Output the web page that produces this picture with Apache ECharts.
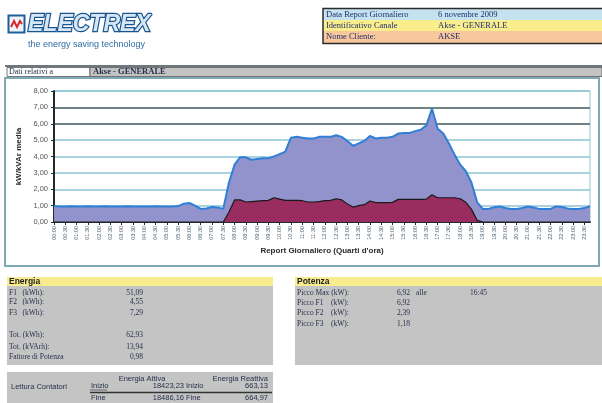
<!DOCTYPE html>
<html><head><meta charset="utf-8">
<script src="https://cdn.jsdelivr.net/npm/echarts@6/dist/echarts.min.js"></script>
<style>html,body{margin:0;padding:0;background:#fff}#c{width:602px;height:403px}</style>
</head><body><div id="c"></div>
<script>
const categories = ["00:00","00:15","00:30","00:45","01:00","01:15","01:30","01:45","02:00","02:15","02:30","02:45","03:00","03:15","03:30","03:45","04:00","04:15","04:30","04:45","05:00","05:15","05:30","05:45","06:00","06:15","06:30","06:45","07:00","07:15","07:30","07:45","08:00","08:15","08:30","08:45","09:00","09:15","09:30","09:45","10:00","10:15","10:30","10:45","11:00","11:15","11:30","11:45","12:00","12:15","12:30","12:45","13:00","13:15","13:30","13:45","14:00","14:15","14:30","14:45","15:00","15:15","15:30","15:45","16:00","16:15","16:30","16:45","17:00","17:15","17:30","17:45","18:00","18:15","18:30","18:45","19:00","19:15","19:30","19:45","20:00","20:15","20:30","20:45","21:00","21:15","21:30","21:45","22:00","22:15","22:30","22:45","23:00","23:15","23:30","23:45"];
const kW = [0.97,0.95,0.95,0.96,0.95,0.95,0.96,0.95,0.95,0.96,0.95,0.95,0.95,0.96,0.95,0.95,0.95,0.95,0.96,0.95,0.95,0.95,0.97,1.12,1.16,1.0,0.8,0.82,0.92,0.88,0.8,2.4,3.5,3.96,3.95,3.8,3.85,3.9,3.9,4.0,4.15,4.3,5.15,5.2,5.15,5.1,5.1,5.2,5.2,5.2,5.3,5.2,4.95,4.65,4.8,4.95,5.25,5.1,5.15,5.15,5.2,5.4,5.43,5.43,5.55,5.63,5.9,6.92,5.7,5.4,4.8,4.1,3.5,3.1,2.4,1.2,0.8,0.8,0.9,0.95,0.85,0.8,0.8,0.85,0.95,0.88,0.8,0.8,0.8,0.95,0.92,0.82,0.8,0.8,0.85,0.96];
const kVAr = [0,0,0,0,0,0,0,0,0,0,0,0,0,0,0,0,0,0,0,0,0,0,0,0,0,0,0,0,0,0,0,0.6,1.35,1.35,1.22,1.25,1.28,1.3,1.32,1.48,1.4,1.32,1.32,1.32,1.3,1.22,1.22,1.25,1.3,1.32,1.42,1.35,1.1,0.91,1.0,1.06,1.28,1.18,1.18,1.18,1.2,1.38,1.38,1.38,1.38,1.38,1.4,1.66,1.48,1.48,1.48,1.48,1.42,1.2,0.77,0.1,0,0,0,0,0,0,0,0,0,0,0,0,0,0,0,0,0,0,0,0];
const headerLabels = ["Data Report Giornaliero","Identificativo Canale","Nome Cliente:"];
const headerValues = ["6 novembre 2009","Akse - GENERALE","AKSE"];
const energiaLabels = ["F1   (kWh):","F2   (kWh):","F3   (kWh):","","Tot. (kWh):","Tot. (kVArh):","Fattore di Potenza"];
const energiaValues = ["51,09","4,55","7,29","","62,93","13,94","0,98"];
const potenzaLabels = ["Picco Max (kW):","Picco F1    (kW):","Picco F2    (kW):","Picco F3    (kW):"];
const potenzaValues = ["6,92","6,92","2,39","1,18"];

const SERIF = '"Liberation Serif", "DejaVu Serif", serif';
const SANS = '"Liberation Sans", Arial, sans-serif';
const TXT = '#26304a';

function t(x, y, text, opt) {
  opt = opt || {};
  return {type:'text', x:x, y:y, silent:true, z:100, style:{text:text, fontSize:opt.size||8, fontFamily:opt.font||SERIF,
    fontWeight:opt.weight||'normal', fontStyle:opt.style||'normal', fill:opt.fill||TXT, align:opt.align||'left', verticalAlign:'middle',
    stroke:opt.stroke, lineWidth:opt.lw||0}};
}
function r(x, y, w, h, fill, stroke, lw) {
  return {type:'rect', silent:true, z:1, shape:{x:x,y:y,width:w,height:h}, style:{fill:fill||'none', stroke:stroke||null, lineWidth:lw||0}};
}
function ln(x1,y1,x2,y2,color,w){return {type:'line', silent:true, z:2, shape:{x1:x1,y1:y1,x2:x2,y2:y2}, style:{stroke:color,lineWidth:w}};}

const g = [];
// Logo
g.push(r(8.5,15.5,16,17,'#eef4fa','#1c5d9c',2));
g.push({type:'polyline', silent:true, z:3, shape:{points:[[11,27],[14,21],[17,27],[20,21],[22,24]]}, style:{stroke:'#d8262a', lineWidth:2, fill:'none'}});
g.push(t(28,25,'ELECTREX',{size:23,font:SANS,weight:'bold',style:'italic',fill:'#d6e6f4',stroke:'#18558f',lw:2.4}));
g.push(t(28,44.5,'the energy saving technology',{size:9,font:SANS,fill:'#2f6ea8'}));
// Header table
g.push(r(323,9,285,11,'#c4e3ef'));
g.push(r(323,20,285,11,'#faee8c'));
g.push(r(323,31,285,12,'#f8c79b'));
g.push(r(323,8.5,285,35,'none','#2b2b2b',1.5));
headerLabels.forEach((s,i)=>{ g.push(t(326,14.5+i*11.2,s,{size:8.5,fill:'#1f2d6e'})); g.push(t(438,14.5+i*11.2,headerValues[i],{size:8.5,fill:'#1f2d6e'})); });
// Chart panel
g.push(ln(5,66,602,66,'#3b4b50',1.5));
g.push(r(7,67.5,83,9,'#ffffff','#555',0.8));
g.push(r(90,67.5,512,9,'#c3c3c3','#555',0.8));
g.push(t(9,72,'Dati relativi a',{size:8}));
g.push(t(93,72,'Akse - GENERALE',{size:8.5,weight:'bold'}));
g.push(r(5,78,594,188,'none','#7fa9b4',2));
// Energia panel
g.push(r(7,277,266,9,'#f8ec8e'));
g.push(r(7,286,266,79,'#c4c4c4'));
g.push(t(9,281.5,'Energia',{size:8.5,font:SANS,weight:'bold',fill:'#1e1e1e'}));
const eY = [292.7,302.3,312.7,324,335,346.7,357.3];
energiaLabels.forEach((s,i)=>{ if(!s) return; g.push(t(9,eY[i],s,{size:7.5})); g.push(t(143,eY[i],energiaValues[i],{size:7.5,align:'right'})); });
// Potenza panel
g.push(r(295,277,310,9,'#f8ec8e'));
g.push(r(295,286,310,79,'#c4c4c4'));
g.push(t(297,281.5,'Potenza',{size:8.5,font:SANS,weight:'bold',fill:'#1e1e1e'}));
const pY = [292.7,303.3,313.3,324];
potenzaLabels.forEach((s,i)=>{ g.push(t(297,pY[i],s,{size:7.5})); g.push(t(410,pY[i],potenzaValues[i],{size:7.5,align:'right'})); });
g.push(t(416,292.7,'alle',{size:7.5}));
g.push(t(470,292.7,'16:45',{size:7.5}));
// Lettura Contatori
g.push(r(7,372,266,31,'#c4c4c4'));
g.push(t(142,379,'Energia Attiva',{size:7.5,font:SANS,align:'center'}));
g.push(t(268,379,'Energia Reattiva',{size:7.5,font:SANS,align:'right'}));
g.push(t(11,387,'Lettura Contatori',{size:7.5,font:SANS}));
g.push(t(91,386,'Inizio',{size:7.5,font:SANS}));
g.push(ln(90,390,107,390,'#444',0.7));
g.push(t(184,386,'18423,23',{size:7.5,font:SANS,align:'right'}));
g.push(t(186,386,'Inizio',{size:7.5,font:SANS}));
g.push(t(268,386,'663,13',{size:7.5,font:SANS,align:'right'}));
g.push(ln(90,392.5,272,392.5,'#333',1.5));
g.push(t(91,397.5,'Fine',{size:7.5,font:SANS}));
g.push(t(184,397.5,'18486,16',{size:7.5,font:SANS,align:'right'}));
g.push(t(186,397.5,'Fine',{size:7.5,font:SANS}));
g.push(t(268,397.5,'664,97',{size:7.5,font:SANS,align:'right'}));

const chart = echarts.init(document.getElementById('c'), null, {renderer:'canvas'});
chart.setOption({
  backgroundColor:'#ffffff',
  animation:false,
  graphic:g,
  grid:{left:54, right:12, top:91, bottom:181, show:true, borderColor:'#8cc4d4', borderWidth:1, backgroundColor:'#ffffff'},
  xAxis:{type:'category', data:categories, boundaryGap:false,
    name:"Report Giornaliero (Quarti d'ora)", nameLocation:'middle', nameGap:25,
    nameTextStyle:{fontSize:8, fontWeight:'bold', fontFamily:SANS, color:'#2a2a2a'},
    axisLine:{lineStyle:{color:'#1e2a2e', width:2}},
    axisTick:{show:true, interval:1, length:3, lineStyle:{color:'#1e2a2e'}},
    axisLabel:{interval:1, rotate:90, fontSize:5.5, color:'#4a6070', margin:4, fontFamily:SANS},
    splitLine:{show:false}},
  yAxis:{type:'value', min:0, max:8, interval:1,
    name:'kW/kVAr media', nameLocation:'middle', nameGap:31, nameRotate:90,
    nameTextStyle:{fontSize:8, fontWeight:'bold', fontFamily:SANS, color:'#2a2a2a'},
    axisLine:{show:true, lineStyle:{color:'#1e2a2e', width:2}},
    axisTick:{show:true, length:3, lineStyle:{color:'#1e2a2e'}},
    axisLabel:{fontSize:7.5, color:'#555', margin:6, fontFamily:SANS, formatter:v=>v.toFixed(2).replace('.',',')},
    splitLine:{show:true, lineStyle:{width:1.6, color:['#8cc4d4','#8cc4d4','#8cc4d4','#8cc4d4','#8cc4d4','#8cc4d4','#3f5a5e','#3f5a5e','#8cc4d4']}}},
  series:[
    {name:'kW', type:'line', data:kW, symbol:'none', smooth:false,
      lineStyle:{color:'#2f7fd6', width:2}, areaStyle:{color:'#9292cc', opacity:1}, z:2},
    {name:'kVAr', type:'line', data:kVAr, symbol:'none', smooth:false,
      lineStyle:{color:'#1a1a1a', width:1.2}, areaStyle:{color:'#9a2d60', opacity:1}, z:3}
  ]
});
</script></body></html>
